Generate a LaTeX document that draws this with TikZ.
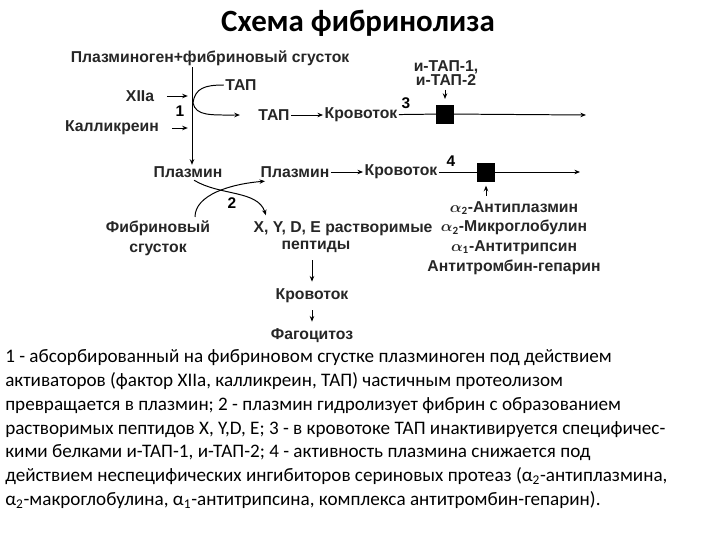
\documentclass[tikz,border=0pt]{standalone}
\usepackage{amsmath}
\usepackage{bm}
\usepackage{fontspec}
\setmainfont{Carlito}
\newfontfamily\diagfont{Liberation Sans}
\usetikzlibrary{arrows.meta, positioning, calc}

\tikzset{
  lbl/.style={font=\diagfont\bfseries\fontsize{11.2}{13}\selectfont, text=black!85, inner sep=1pt},
  num/.style={font=\diagfont\bfseries\fontsize{11}{12}\selectfont, inner sep=0pt},
  arr/.style={-{Stealth[length=4pt,width=3.2pt]}, line width=0.7pt},
  ln/.style={line width=0.7pt},
  blk/.style={fill=black, draw=black, minimum width=12pt, minimum height=13pt, inner sep=0pt}
}
\newcommand{\alf}[1]{$\bm{\alpha}_{\mathbf{#1}}$}

\begin{document}
\begin{tikzpicture}[x=0.025cm, y=-0.025cm]
  \useasboundingbox (0,0) rectangle (720,540);

  % Title
  \node[font=\bfseries\fontsize{22}{26}\selectfont] (title) at (358,23) {Схема фибринолиза};

  % Activation of plasminogen
  \node[lbl] (pgfib) at (210,58) {Плазминоген+фибриновый сгусток};
  \node[lbl] (f12) at (140,96) {XIIa};
  \node[lbl] (kal) at (112,128) {Калликреин};
  \coordinate (vtop) at (192,67);
  \coordinate (split) at (193,103);
  \node[lbl] (pl1) at (188,172) {Плазмин};
  \draw[arr] (vtop) -- (vtop |- pl1.north);
  \draw[arr, shorten <=8pt, shorten >=3pt] (f12.east) -- (f12.east -| vtop);
  \draw[arr, shorten <=8pt, shorten >=3pt] (kal.east) -- (kal.east -| vtop);
  \node[num] (n1) at (180,111) {1};

  \node[lbl] (tap1) at (241,85) {ТАП};
  \node[lbl] (tap2) at (274,115) {ТАП};
  \draw[ln] (split) .. controls (195,88) and (205,85) .. (tap1.west);
  \draw[arr, shorten >=12pt] (split) .. controls (196,116) and (210,115) .. (tap2.west);

  % TAP inactivation in blood
  \node[lbl] (krov1) at (361,115) {Кровоток};
  \node[blk] (b3) at (445,114) {};
  \coordinate (end3) at (586,115);
  \draw[arr] (tap2) -- (krov1);
  \draw[ln] (krov1) -- (b3);
  \draw[arr] (b3) -- (end3);
  \node[num] (n3) at (406,103) {3};
  \node[lbl, align=center] (itap) at (446,73) {и-ТАП-1,\\[-3pt]и-ТАП-2};
  \draw[arr, shorten <=2pt, shorten >=4pt] (itap.south -| b3) -- (b3.north);

  % Fibrin lysis
  \node[lbl] (pl2) at (295,172) {Плазмин};
  \node[lbl] (krov2) at (401,172) {Кровоток};
  \node[blk] (b4) at (486,172) {};
  \coordinate (end4) at (580,172);
  \draw[arr] (pl2) -- (krov2);
  \draw[ln] (krov2) -- (b4);
  \draw[arr] (b4) -- (end4);
  \node[num] (n4) at (451,161) {4};
  \node[lbl, align=center] (inhib) at (514,238)
    {\alf{2}-Антиплазмин\\[1pt]\alf{2}-Микроглобулин\\[1pt]\alf{1}-Антитрипсин\\[1pt]Антитромбин-гепарин};
  \draw[arr, shorten <=3pt, shorten >=3pt] (inhib.north -| b4) -- (b4.south);

  \node[lbl, align=center] (fib) at (158,238) {Фибриновый\\[1pt]сгусток};
  \node[lbl] (xyde) at (343,229) {X, Y, D, E растворимые};
  \node[lbl] (pept) at (316,247) {пептиды};
  \draw[arr] ($(pl1.south)+(6,1)$) .. controls (220,196) and (258,190) .. ($(xyde.north west)+(14,-5)$);
  \draw[arr] ($(fib.north)+(37,-2)$) .. controls (195,195) and (230,184) .. ($(pl2.south west)+(6,2)$);
  \node[num] (n2) at (232,203) {2};

  \node[lbl] (krov3) at (312,296) {Кровоток};
  \node[lbl] (fago) at (312,336) {Фагоцитоз};
  \draw[arr, shorten <=4pt, shorten >=4pt] (pept.south -| krov3) -- (krov3);
  \draw[arr, shorten <=4pt, shorten >=4pt] (krov3) -- (fago);

  % Legend
  \node[anchor=north west, align=left, inner sep=0pt, font=\fontsize{13.6}{17}\selectfont] (legend) at (5,349)
    {1 - абсорбированный на фибриновом сгустке плазминоген под действием\\
     активаторов (фактор XIIa, калликреин, ТАП) частичным протеолизом\\
     превращается в плазмин; 2 - плазмин гидролизует фибрин с образованием\\
     растворимых пептидов X, Y,D, E; 3 - в кровотоке ТАП инактивируется специфичес-\\
     кими белками и-ТАП-1, и-ТАП-2; 4 - активность плазмина снижается под\\
     действием неспецифических ингибиторов сериновых протеаз (α\textsubscript{2}-антиплазмина,\\
     α\textsubscript{2}-макроглобулина, α\textsubscript{1}-антитрипсина, комплекса антитромбин-гепарин).};
\end{tikzpicture}
\end{document}
